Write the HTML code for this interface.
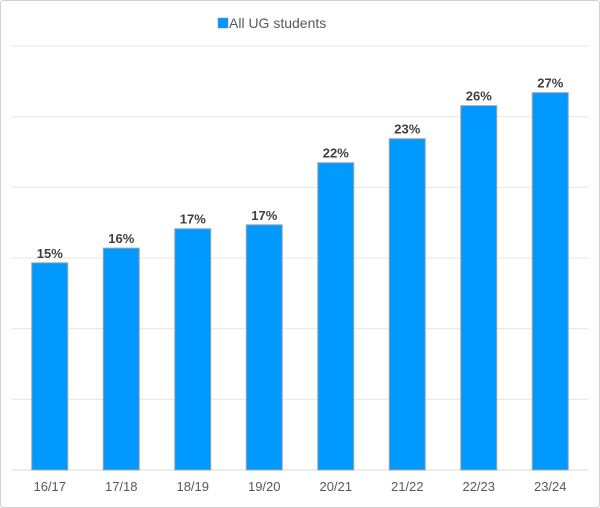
<!DOCTYPE html>
<html><head><meta charset="utf-8"><style>
body{margin:0;background:#fff;}
svg{display:block;font-family:"Liberation Sans",sans-serif;}
</style></head><body>
<svg id="chart" width="600" height="508">
<rect x="0.5" y="0.5" width="599" height="507" rx="3" fill="#fff" stroke="#d0d0d0"/>
<g>
<rect x="218" y="18" width="10" height="10" fill="#0099ff" stroke="#888" stroke-width="0.5"/>
<text x="229" y="28" font-size="14" fill="#595959">All UG students</text>
</g>
<g id="grid"></g><g id="bars"></g><g id="labels"></g><g id="xaxis"></g>
</svg>
<script>
const categories=["16/17","17/18","18/19","19/20","20/21","21/22","22/23","23/24"];
const values=[14.66,15.7,17.07,17.35,21.74,23.44,25.78,26.7];
const valueLabels=["15%","16%","17%","17%","22%","23%","26%","27%"];
const gridTicks=[0,5,10,15,20,25,30];
const NS="http://www.w3.org/2000/svg";
const x0=14,x1=586,y0=470,yTop=46,maxV=30;
const y=v=>y0-(v/maxV)*(y0-yTop);
const bw=(x1-x0)/categories.length;
const xc=i=>x0+bw*(i+0.5);
function mk(t,a,p){const e=document.createElementNS(NS,t);for(const k in a)e.setAttribute(k,a[k]);p.appendChild(e);return e;}
const g=document.getElementById('grid'),b=document.getElementById('bars'),l=document.getElementById('labels'),xa=document.getElementById('xaxis');
gridTicks.forEach(t=>{
const ln=mk('line',{x1:12,x2:588,y1:y(t),y2:y(t),stroke:t===0?'#d9d9d9':'#e6e6e6','stroke-width':1},g);


});
categories.forEach((c,i)=>{
const r=mk('rect',{x:xc(i)-18,y:y(values[i]),width:36,height:y0-y(values[i]),fill:'#0099ff',stroke:'#a6a6a6','stroke-width':1},b);


const t=mk('text',{x:xc(i),y:y(values[i])-5,'text-anchor':'middle','font-size':13,'font-weight':'bold',fill:'#404040'},l);
t.textContent=valueLabels[i];


const xt=mk('text',{x:xc(i),y:491,'text-anchor':'middle','font-size':13,fill:'#595959'},xa);
xt.textContent=c;


});
</script>
</body></html>
